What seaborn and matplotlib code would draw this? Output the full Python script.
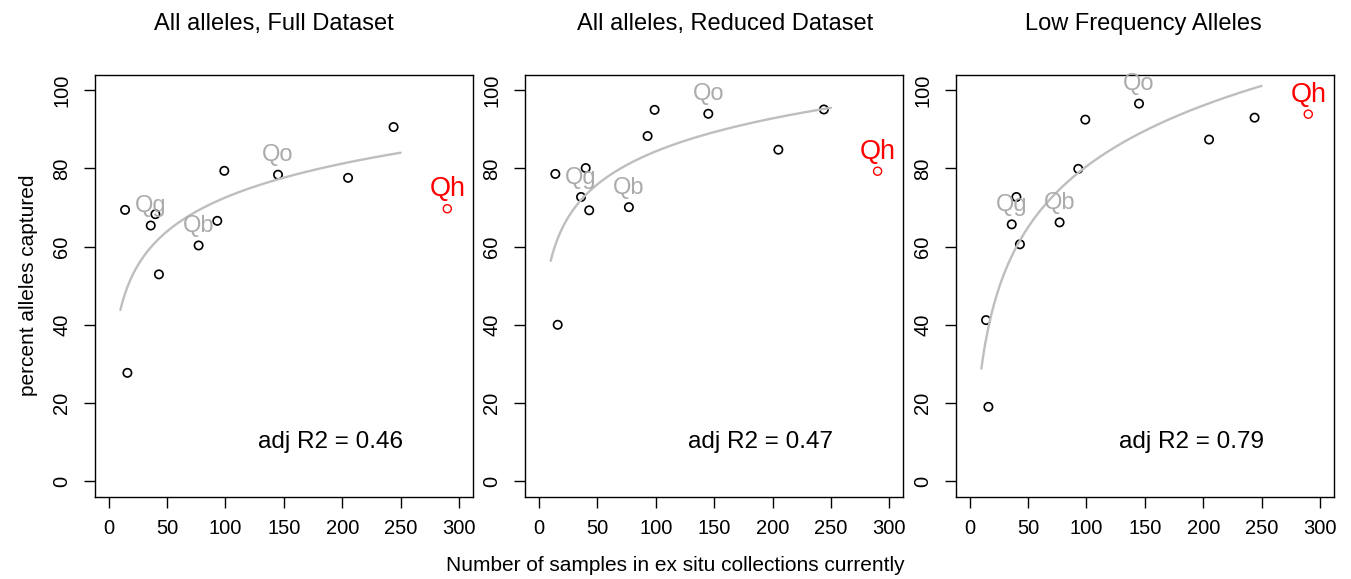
import numpy as np
import pandas as pd
import matplotlib
matplotlib.use("Agg")
import matplotlib.pyplot as plt
import seaborn as sns

# ---- datos ----
n_samples = [14, 16, 36, 40, 43, 77, 93, 99, 145, 205, 244, 290]
species = ["", "", "Qg", "", "", "Qb", "", "", "Qo", "", "", "Qh"]

full_all = [69.4, 27.7, 65.4, 68.3, 52.9, 60.3, 66.6, 79.4, 78.4, 77.6, 90.6, 69.7]
reduced_all = [78.6, 40.0, 72.7, 80.1, 69.3, 70.1, 88.3, 95.0, 94.0, 84.8, 95.1, 79.3]
low_freq = [41.2, 19.0, 65.7, 72.7, 60.6, 66.2, 79.9, 92.5, 96.6, 87.4, 93.0, 93.9]

titles = ["All alleles, Full Dataset", "All alleles, Reduced Dataset", "Low Frequency Alleles"]
adj_r2 = ["0.46", "0.47", "0.79"]
x_ticks = [0, 50, 100, 150, 200, 250, 300]
y_ticks = [0, 20, 40, 60, 80, 100]

sns.set_theme(style="white")
plt.rcParams["font.family"] = ["Liberation Sans", "DejaVu Sans"]
plt.rcParams["text.color"] = "black"
plt.rcParams["axes.labelcolor"] = "black"
plt.rcParams["xtick.color"] = "black"
plt.rcParams["ytick.color"] = "black"

fig = plt.figure(figsize=(13.51, 5.79), dpi=100)
lefts = [0.0701, 0.3886, 0.7074]
title_x = [0.474, 0.529, 0.495]

for i, (vals, title, r2) in enumerate(zip([full_all, reduced_all, low_freq], titles, adj_r2)):
    ax = fig.add_axes([lefts[i], 0.1421, 0.2800, 0.7289])
    df = pd.DataFrame({"x": n_samples, "y": vals, "sp": species})
    fit_df = df[df["sp"] != "Qh"]

    # ajuste logaritmico y ~ log(x)
    b, a = np.polyfit(np.log(fit_df["x"]), fit_df["y"], 1)
    xs = np.linspace(10, 250, 200)
    curve = pd.DataFrame({"x": xs, "y": a + b * np.log(xs)})
    sns.lineplot(data=curve, x="x", y="y", color="#BEBEBE", linewidth=1.7, ax=ax)

    sns.scatterplot(data=fit_df, x="x", y="y", marker="o", s=36,
                    facecolor="none", edgecolor="black", linewidth=1.2, ax=ax)
    qh = df[df["sp"] == "Qh"]
    sns.scatterplot(data=qh, x="x", y="y", marker="o", s=34,
                    facecolor="none", edgecolor="red", linewidth=1.0, ax=ax)

    for _, row in df[df["sp"] != ""].iterrows():
        col = "red" if row["sp"] == "Qh" else "#ABABAB"
        fs = 19.5 if row["sp"] == "Qh" else 17
        ax.annotate(row["sp"], (row["x"], row["y"]), xytext=(0, 14),
                    textcoords="offset points", ha="center", va="center",
                    color=col, fontsize=fs)

    ax.text(190, 10, "adj R2 = " + r2, ha="center", va="center", fontsize=17.5)

    ax.set_xlim(-12, 312)
    ax.set_ylim(-4, 104)
    ax.set_xticks(x_ticks)
    ax.set_yticks(y_ticks)
    ax.tick_params(axis="both", direction="out", length=8, width=1.0,
                   color="black", labelcolor="black", labelsize=14.5,
                   bottom=True, left=True)
    ax.tick_params(axis="x", pad=8)
    ax.tick_params(axis="y", pad=9)
    for lab in ax.get_yticklabels():
        lab.set_rotation(90)
        lab.set_va("center")
    for sp in ax.spines.values():
        sp.set_visible(True)
        sp.set_color("black")
        sp.set_linewidth(1.0)
    ax.set_xlabel("")
    ax.set_ylabel("")
    ax.text(title_x[i], 1.12, title, transform=ax.transAxes, ha="center",
            va="center", fontsize=17)
    if i == 0:
        ax.set_ylabel("percent alleles captured", fontsize=15, labelpad=10)

fig.text(0.5, 0.0225, "Number of samples in ex situ collections currently",
         ha="center", va="center", fontsize=15)

fig.savefig("out.png", dpi=100)
